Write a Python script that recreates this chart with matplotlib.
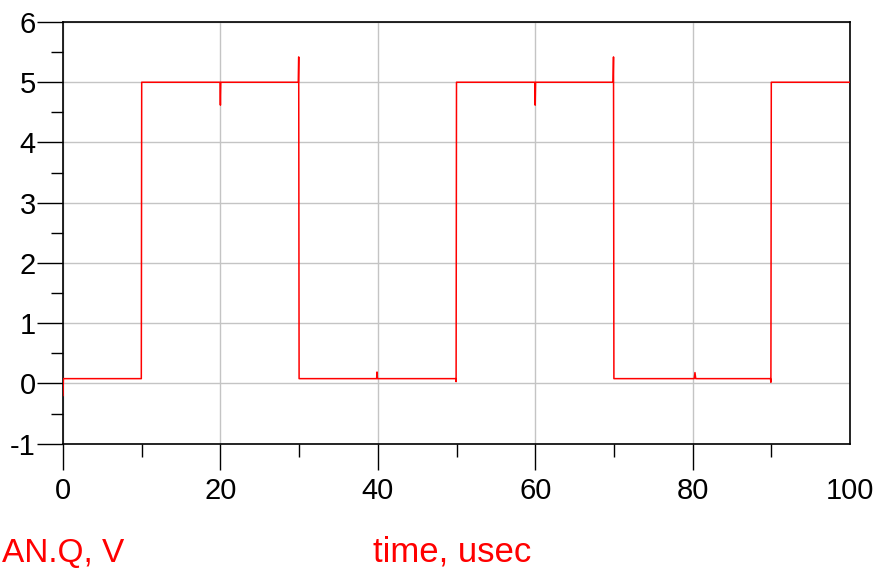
import matplotlib
matplotlib.use("Agg")
import matplotlib.pyplot as plt
from matplotlib.ticker import MultipleLocator

plt.rcParams['font.family'] = ['Liberation Sans', 'DejaVu Sans']
plt.rcParams['axes.unicode_minus'] = False

# waveform breakpoints (time in usec, voltage in V)
time_us = [0.0, 0.05, 9.95, 10.0, 19.95, 20.0, 20.05, 29.9, 29.95, 30.0,
           39.85, 39.9, 39.95, 49.9, 49.95, 50.0, 59.95, 60.0, 60.05, 69.9,
           69.95, 70.0, 80.2, 80.3, 80.4, 89.9, 89.95, 90.0, 100.0]
volts = [-0.2, 0.08, 0.08, 5.0, 5.0, 4.62, 5.0, 5.0, 5.42, 0.08,
         0.08, 0.19, 0.08, 0.08, 0.03, 5.0, 5.0, 4.62, 5.0, 5.0,
         5.42, 0.08, 0.08, 0.18, 0.08, 0.08, 0.02, 5.0, 5.0]

x_ticks = [0, 20, 40, 60, 80, 100]
y_ticks = [-1, 0, 1, 2, 3, 4, 5, 6]
y_label = "AN.Q, V"
x_label = "time, usec"

fig = plt.figure(figsize=(8.83, 5.70), dpi=100)
ax = fig.add_axes([63/883, 1-443.7/570, (850-63)/883, (443.7-22)/570])

ax.plot(time_us, volts, color='#ff0000', lw=1.1, zorder=3)

ax.set_xlim(0, 100)
ax.set_ylim(-1, 6)
ax.set_xticks(x_ticks)
ax.set_yticks(y_ticks)
ax.set_yticklabels([str(v) for v in y_ticks])
ax.xaxis.set_minor_locator(MultipleLocator(10))
ax.yaxis.set_minor_locator(MultipleLocator(0.5))
ax.grid(True, which='major', color='#c4c4c4', lw=1.0, zorder=0)

ax.tick_params(which='major', direction='out', length=18.7, width=1.0,
               labelsize=21, color='black')
ax.tick_params(axis='x', which='major', pad=5.0)
ax.tick_params(axis='y', which='major', pad=1.0)
ax.tick_params(which='minor', direction='out', length=9.0, width=1.0, color='black')
for s in ax.spines.values():
    s.set_linewidth(1.2)
    s.set_color('black')

# no tick mark at the right end of the time axis
ax.xaxis.get_major_ticks()[-1].tick1line.set_visible(False)

fig.text(2/883, 1-562/570, y_label, ha='left', va='baseline',
         color='#ff0000', fontsize=24)
fig.text(452/883, 1-562/570, x_label, ha='center', va='baseline',
         color='#ff0000', fontsize=25)

fig.savefig("out.png", dpi=100)
